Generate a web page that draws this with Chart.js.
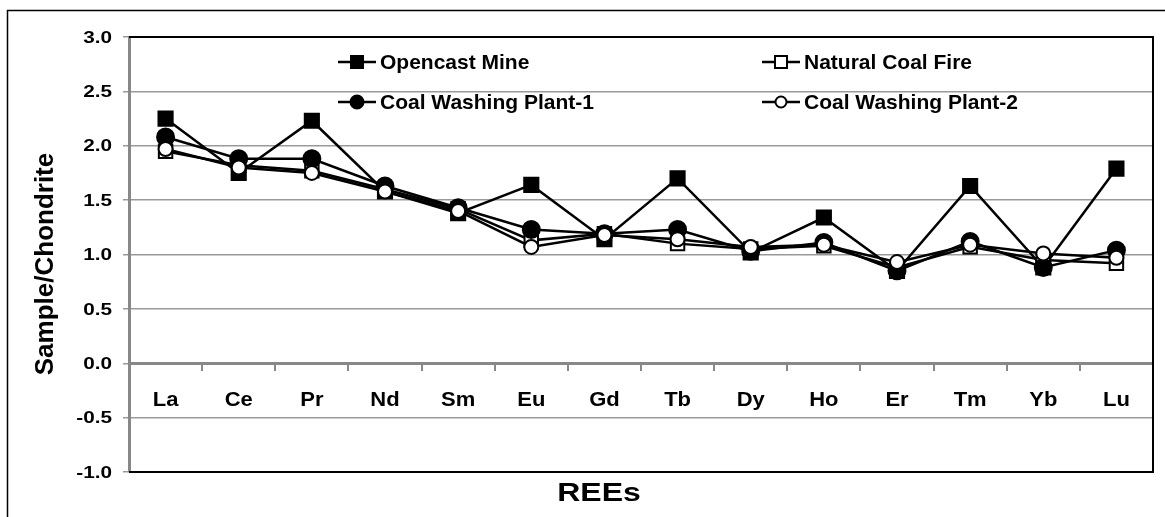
<!DOCTYPE html>
<html>
<head>
<meta charset="utf-8">
<script src="https://cdn.jsdelivr.net/npm/chart.js@4.4.1/dist/chart.umd.min.js"></script>
<style>
  html, body { margin: 0; padding: 0; background: #fff; }
  #wrap { width: 1165px; height: 517px; }
</style>
</head>
<body>
<div id="wrap"><canvas id="reeChart" width="1165" height="517"></canvas></div>
<script>
// REE chondrite-normalised values
const elements = ['La', 'Ce', 'Pr', 'Nd', 'Sm', 'Eu', 'Gd', 'Tb', 'Dy', 'Ho', 'Er', 'Tm', 'Yb', 'Lu'];
const opencastMine = [2.25, 1.75, 2.23, 1.58, 1.38, 1.64, 1.14, 1.70, 1.02, 1.34, 0.85, 1.63, 0.88, 1.79];
const naturalCoalFire = [1.95, 1.82, 1.77, 1.60, 1.42, 1.13, 1.19, 1.10, 1.05, 1.08, 0.88, 1.07, 0.95, 0.92];
const washingPlant1 = [2.08, 1.88, 1.88, 1.63, 1.43, 1.23, 1.19, 1.23, 1.03, 1.11, 0.85, 1.12, 0.88, 1.04];
const washingPlant2 = [1.97, 1.80, 1.75, 1.58, 1.40, 1.07, 1.18, 1.14, 1.07, 1.09, 0.93, 1.09, 1.01, 0.97];
const yTicks = [-1.0, -0.5, 0.0, 0.5, 1.0, 1.5, 2.0, 2.5, 3.0];

const FONT = '"Liberation Sans", Arial, sans-serif';

const series = [
    { label: 'Opencast Mine', data: opencastMine, style: 'rect', fill: '#000', r: 10, order: 4 },
    { label: 'Natural Coal Fire', data: naturalCoalFire, style: 'rect', fill: '#fff', r: 9.5, order: 3 },
    { label: 'Coal Washing Plant-1', data: washingPlant1, style: 'circle', fill: '#000', r: 8.5, order: 2 },
    { label: 'Coal Washing Plant-2', data: washingPlant2, style: 'circle', fill: '#fff', r: 7, order: 1 }
];

// legend slots (two columns, two rows inside the plot)
const legendSlots = [
    { x: 338, y: 62 }, { x: 762, y: 62 },
    { x: 338, y: 102 }, { x: 762, y: 102 }
];

// text drawn a bit wider than the font, like the original export
function wideText(ctx, text, x, y, sx, align) {
    ctx.save();
    ctx.translate(x, y);
    ctx.scale(sx, 1);
    ctx.textAlign = align;
    ctx.fillText(text, 0, 0);
    ctx.restore();
}

const decorations = {
    id: 'decorations',
    afterDraw(chart) {
        const ctx = chart.ctx;
        const a = chart.chartArea;
        const xs = chart.scales.x;
        const ys = chart.scales.y;
        ctx.save();

        // outer frame (only top and left are inside the picture)
        ctx.strokeStyle = '#000';
        ctx.lineWidth = 1.5;
        ctx.beginPath();
        ctx.moveTo(7.5, 517);
        ctx.lineTo(7.5, 10.5);
        ctx.lineTo(1165, 10.5);
        ctx.stroke();

        // plot border top/right/bottom
        ctx.lineWidth = 2;
        ctx.beginPath();
        ctx.moveTo(a.left, a.top);
        ctx.lineTo(a.right, a.top);
        ctx.lineTo(a.right, a.bottom);
        ctx.lineTo(a.left, a.bottom);
        ctx.stroke();

        ctx.fillStyle = '#000';
        ctx.textBaseline = 'middle';

        // y tick labels
        ctx.font = 'bold 17px ' + FONT;
        yTicks.forEach(v => {
            wideText(ctx, v.toFixed(1), 112, ys.getPixelForValue(v) + 1, 1.22, 'right');
        });

        // x tick labels
        ctx.font = 'bold 20px ' + FONT;
        elements.forEach((el, i) => {
            wideText(ctx, el, xs.getPixelForValue(i), 400, 1.1, 'center');
        });

        // axis titles
        ctx.font = 'bold 25px ' + FONT;
        wideText(ctx, 'REEs', 599, 494, 1.28, 'center');
        ctx.save();
        ctx.translate(46, 264);
        ctx.rotate(-Math.PI / 2);
        ctx.font = 'bold 26px ' + FONT;
        ctx.textAlign = 'center';
        ctx.fillText('Sample/Chondrite', 0, 0);
        ctx.restore();

        // legend
        ctx.font = 'bold 21px ' + FONT;
        ctx.textAlign = 'left';
        series.forEach((s, i) => {
            const p = legendSlots[i];
            ctx.strokeStyle = '#000';
            ctx.lineWidth = 2.5;
            ctx.beginPath();
            ctx.moveTo(p.x, p.y);
            ctx.lineTo(p.x + 38, p.y);
            ctx.stroke();
            const cx = p.x + 19;
            ctx.fillStyle = s.fill;
            ctx.lineWidth = 2;
            ctx.beginPath();
            if (s.style === 'rect') {
                ctx.rect(cx - 6, p.y - 6, 12, 12);
            } else {
                ctx.arc(cx, p.y, s.fill === '#000' ? 6.5 : 5.5, 0, Math.PI * 2);
            }
            ctx.fill();
            ctx.stroke();
            ctx.fillStyle = '#000';
            ctx.fillText(s.label, p.x + 42, p.y + 1);
        });

        ctx.restore();
    }
};

new Chart(document.getElementById('reeChart').getContext('2d'), {
    type: 'line',
    data: {
        labels: elements,
        datasets: series.map(s => ({
            label: s.label,
            data: s.data,
            order: s.order,
            borderColor: '#000',
            borderWidth: 2.5,
            pointStyle: s.style,
            pointRadius: s.r,
            pointBackgroundColor: s.fill,
            pointBorderColor: '#000',
            pointBorderWidth: 2,
            fill: false,
            tension: 0
        }))
    },
    options: {
        responsive: false,
        animation: false,
        layout: { padding: { left: 8, top: 37, right: 12, bottom: 45 } },
        plugins: {
            legend: { display: false },
            tooltip: { enabled: false }
        },
        scales: {
            x: {
                type: 'category',
                offset: true,
                position: { y: 0 },
                grid: { offset: true, drawOnChartArea: false, tickLength: 6, color: '#888', lineWidth: 2 },
                border: { color: '#888', width: 3 },
                ticks: { display: false }
            },
            y: {
                min: -1,
                max: 3,
                afterBuildTicks: scale => { scale.ticks = yTicks.map(v => ({ value: v })); },
                afterFit: scale => { scale.width = 121; },
                grid: { color: '#999', lineWidth: 1.5, tickLength: 6 },
                border: { color: '#888', width: 3 },
                ticks: { display: false }
            }
        }
    },
    plugins: [decorations]
});
</script>
</body>
</html>
